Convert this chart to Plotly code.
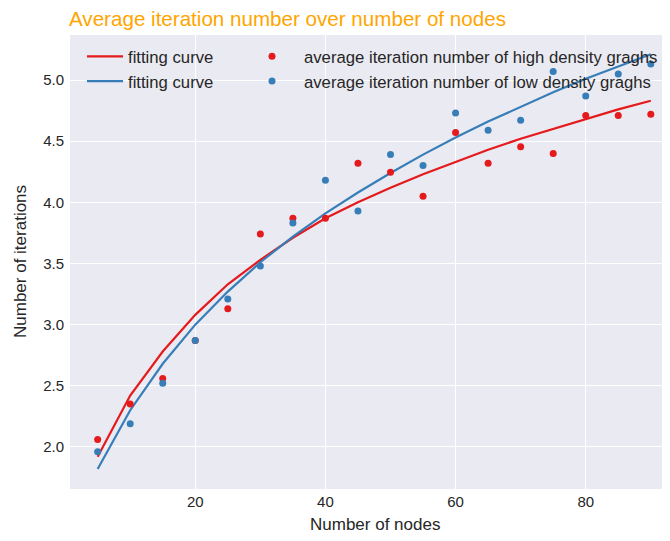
import plotly.graph_objects as go

nodes = [5, 10, 15, 20, 25, 30, 35, 40, 45, 50, 55, 60, 65, 70, 75, 80, 85, 90]

high_avg = [2.06, 2.35, 2.56, 2.87, 3.13, 3.74, 3.87, 3.87, 4.32, 4.245, 4.05, 4.57,
            4.32, 4.455, 4.40, 4.71, 4.71, 4.72]
low_avg = [1.96, 2.19, 2.52, 2.87, 3.21, 3.48, 3.83, 4.18, 3.93, 4.39, 4.30, 4.73,
           4.59, 4.67, 5.07, 4.87, 5.05, 5.13]

high_fit = [1.92, 2.42, 2.78, 3.08, 3.33, 3.53, 3.71, 3.87, 4.00, 4.12, 4.23, 4.33,
            4.43, 4.52, 4.60, 4.68, 4.76, 4.83]
low_fit = [1.82, 2.30, 2.68, 3.00, 3.27, 3.51, 3.72, 3.91, 4.08, 4.24, 4.39, 4.53,
           4.66, 4.78, 4.90, 5.01, 5.11, 5.21]

x_ticks = [20, 40, 60, 80]
y_ticks = [2.0, 2.5, 3.0, 3.5, 4.0, 4.5, 5.0]

RED = "#e41a1c"
BLUE = "#377eb8"
FONT = "Liberation Sans, Arial, sans-serif"
TXT = "#262626"

W, H = 662, 525  # page body has an 8px margin inside the 670x541 window
PL, PT, PB = 62, 27, 44
PW = W - PL
PH = H - PT - PB

fig = go.Figure()
fig.add_trace(go.Scatter(x=nodes, y=high_fit, mode="lines", name="fitting curve",
                         line=dict(color=RED, width=2.2), legend="legend"))
fig.add_trace(go.Scatter(x=nodes, y=low_fit, mode="lines", name="fitting curve",
                         line=dict(color=BLUE, width=2.2), legend="legend"))
fig.add_trace(go.Scatter(x=nodes, y=high_avg, mode="markers",
                         name="average iteration number of high density graghs",
                         marker=dict(color=RED, size=7), legend="legend2"))
fig.add_trace(go.Scatter(x=nodes, y=low_avg, mode="markers",
                         name="average iteration number of low density graghs",
                         marker=dict(color=BLUE, size=7), legend="legend2"))

legend_common = dict(bgcolor="rgba(0,0,0,0)", borderwidth=0,
                     font=dict(family=FONT, size=16.7, color=TXT),
                     xanchor="left", yanchor="top", tracegroupgap=0,
                     traceorder="normal")

fig.update_layout(
    width=W, height=H,
    margin=dict(l=PL, r=0, t=PT, b=PB, pad=0, autoexpand=False),
    paper_bgcolor="white",
    plot_bgcolor="#EAEAF2",
    font=dict(family=FONT, color=TXT),
    title=dict(text="Average iteration number over number of nodes",
               font=dict(family=FONT, size=20.6, color="#FFA500"),
               x=61 / W, xanchor="left", y=1 - 11 / H, yanchor="middle"),
    xaxis=dict(range=[0.75, 92.95], tickvals=x_ticks, showgrid=True,
               gridcolor="white", gridwidth=1.3, zeroline=False, showline=False,
               ticks="", tickfont=dict(family=FONT, size=15, color=TXT),
               ticklabelstandoff=2),
    yaxis=dict(range=[1.656, 5.368], tickvals=y_ticks, tickformat=".1f", showgrid=True,
               gridcolor="white", gridwidth=1.3, zeroline=False, showline=False,
               ticks="", tickfont=dict(family=FONT, size=15, color=TXT),
               ticklabelstandoff=5),
    legend=dict(x=(82 - 70) / PW, y=1 - (39 - 35) / PH, itemwidth=36, **legend_common),
    legend2=dict(x=(240 - 70) / PW, y=1 - (39 - 35) / PH, itemwidth=54, **legend_common),
    annotations=[
        dict(text="Number of nodes", xref="paper", yref="paper",
             x=0.5 + (375 - 370) / PW, y=-(524 - 8 - (PT + PH)) / PH,
             xanchor="center", yanchor="middle", showarrow=False,
             font=dict(family=FONT, size=17, color=TXT)),
        dict(text="Number of iterations", xref="paper", yref="paper",
             x=(20 - 8 - PL) / PW, y=0.5, textangle=-90,
             xanchor="center", yanchor="middle", showarrow=False,
             font=dict(family=FONT, size=17, color=TXT)),
    ],
)

fig.write_html("out.html")
